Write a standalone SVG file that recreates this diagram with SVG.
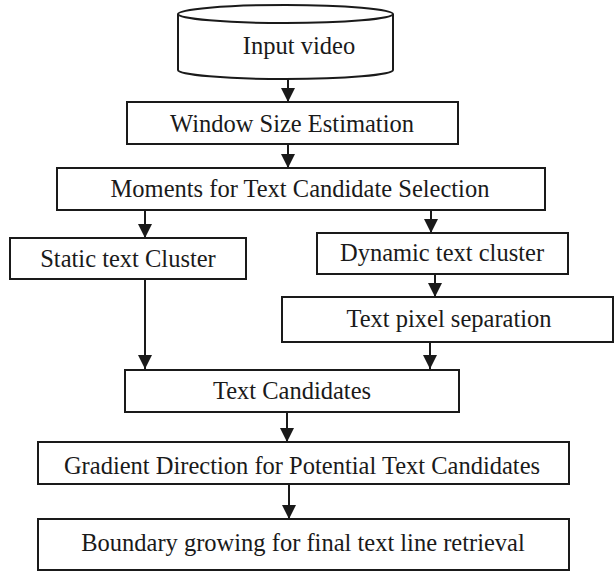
<svg xmlns="http://www.w3.org/2000/svg" width="615" height="571" viewBox="0 0 615 571">
<style>
  .box { fill: #ffffff; stroke: #1a1a1a; stroke-width: 2; }
  .lbl { font-family: "Liberation Serif", "Times New Roman", serif; font-size: 24.5px; fill: #1a1a1a; text-anchor: middle; }
  .edge { stroke: #1a1a1a; stroke-width: 2; fill: none; marker-end: url(#arr); }
</style>
<defs>
  <marker id="arr" viewBox="0 0 14 14" refX="14" refY="7" markerWidth="14" markerHeight="14" markerUnits="userSpaceOnUse" orient="auto">
    <path d="M0,0 L14,7 L0,14 Z" fill="#1a1a1a"/>
  </marker>
</defs>
<rect width="615" height="571" fill="#ffffff"/>
<g id="connectors">
  <line class="edge" x1="288" y1="79" x2="288" y2="102"/>
  <line class="edge" x1="288" y1="144" x2="288" y2="168"/>
  <line class="edge" x1="145" y1="210" x2="145" y2="238"/>
  <line class="edge" x1="431" y1="210" x2="431" y2="233"/>
  <line class="edge" x1="435" y1="274" x2="435" y2="297"/>
  <line class="edge" x1="145" y1="279" x2="145" y2="369"/>
  <line class="edge" x1="430" y1="342" x2="430" y2="369"/>
  <line class="edge" x1="287" y1="412" x2="287" y2="442"/>
  <line class="edge" x1="289" y1="484" x2="289" y2="519"/>
</g>
<g id="input-video">
  <path class="box" d="M178,14 L178,70 A107.5,9 0 0 0 393,70 L393,14"/>
  <ellipse class="box" cx="285.5" cy="14" rx="107.5" ry="9"/>
  <text class="lbl" x="299" y="54">Input video</text>
</g>
<g id="window-size">
  <rect class="box" x="127" y="102" width="331" height="42"/>
  <text class="lbl" x="292" y="132">Window Size Estimation</text>
</g>
<g id="moments">
  <rect class="box" x="57" y="168" width="488" height="42"/>
  <text class="lbl" x="300" y="197">Moments for Text Candidate Selection</text>
</g>
<g id="static-cluster">
  <rect class="box" x="10" y="238" width="236" height="41"/>
  <text class="lbl" x="128" y="267">Static text Cluster</text>
</g>
<g id="dynamic-cluster">
  <rect class="box" x="317" y="233" width="251" height="41"/>
  <text class="lbl" x="442" y="261">Dynamic text cluster</text>
</g>
<g id="pixel-separation">
  <rect class="box" x="282" y="297" width="331" height="45"/>
  <text class="lbl" x="449" y="327">Text pixel separation</text>
</g>
<g id="text-candidates">
  <rect class="box" x="125" y="370" width="334" height="42"/>
  <text class="lbl" x="292" y="399">Text Candidates</text>
</g>
<g id="gradient-direction">
  <rect class="box" x="38" y="442" width="531" height="42"/>
  <text class="lbl" x="302" y="474">Gradient Direction for Potential Text Candidates</text>
</g>
<g id="boundary-growing">
  <rect class="box" x="38" y="519" width="531" height="51"/>
  <text class="lbl" x="303" y="551">Boundary growing for final text line retrieval</text>
</g>
</svg>
